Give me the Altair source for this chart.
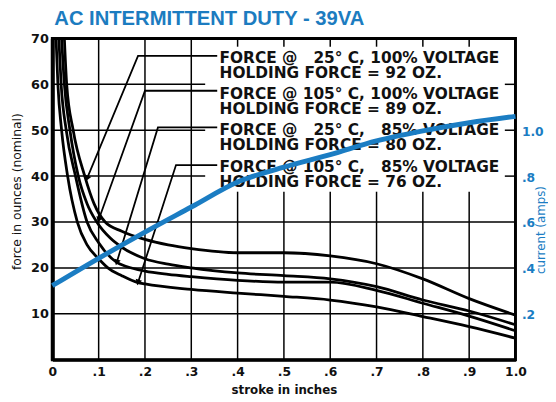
import math
import altair as alt
import pandas as pd

# ---------------- data ----------------
TITLE = "AC INTERMITTENT DUTY - 39VA"

# force curves (stroke in inches -> force in ounces)
a_x = [0.026, 0.031, 0.045, 0.070, 0.090, 0.114, 0.150, 0.200, 0.250, 0.300, 0.400, 0.500, 0.600, 0.700, 0.800, 0.900, 1.000]
a_f = [70, 60, 50, 40, 34, 30, 28, 26.2, 25, 24.2, 23.3, 23.3, 22.6, 20.9, 17.6, 13.3, 9.7]

b_x = [0.020, 0.026, 0.038, 0.056, 0.075, 0.096, 0.125, 0.150, 0.200, 0.250, 0.300, 0.400, 0.500, 0.600, 0.700, 0.800, 0.900, 1.000]
b_f = [70, 60, 50, 40, 34, 30, 26.5, 24.5, 22, 20.8, 20.0, 18.9, 18.3, 17.6, 15.9, 13.0, 10.6, 7.6]

c_x = [0.014, 0.019, 0.030, 0.050, 0.075, 0.100, 0.139, 0.160, 0.200, 0.250, 0.300, 0.400, 0.500, 0.600, 0.700, 0.800, 0.900, 1.000]
c_f = [70, 60, 50, 40, 30, 25.5, 21.2, 20.3, 19.3, 18.6, 18.1, 17.3, 16.9, 16.9, 15.1, 12.3, 9.5, 6.3]

d_x = [0.008, 0.012, 0.020, 0.033, 0.054, 0.075, 0.100, 0.120, 0.150, 0.185, 0.200, 0.300, 0.400, 0.500, 0.600, 0.700, 0.800, 0.900, 1.000]
d_f = [70, 60, 50, 40, 30, 25, 22, 20, 18.3, 16.8, 16.5, 15.3, 14.5, 13.8, 13.0, 11.5, 9.4, 7.2, 4.7]

# current curve (amps)
i_x = [0.0, 0.1, 0.2, 0.3, 0.4, 0.5, 0.6, 0.7, 0.8, 0.9, 1.0]
i_a = [0.325, 0.445, 0.56, 0.67, 0.78, 0.845, 0.90, 0.96, 1.004, 1.04, 1.068]

# annotation labels
label_lines = [
    "FORCE @ \u200725° C, 100% VOLTAGE",
    "HOLDING FORCE = 92 OZ.",
    "FORCE @ 105° C, 100% VOLTAGE",
    "HOLDING FORCE = 89 OZ.",
    "FORCE @ \u200725° C, \u200785% VOLTAGE",
    "HOLDING FORCE = 80 OZ.",
    "FORCE @ 105° C, \u200785% VOLTAGE",
    "HOLDING FORCE = 76 OZ.",
]
label_f = [65.8, 62.5, 57.8, 54.6, 50.0, 46.7, 41.9, 38.7]
label_x0 = 0.361

# leader lines: (start, bend, tip)
lead_x = [[0.356, 0.185, 0.075], [0.356, 0.200, 0.100], [0.356, 0.228, 0.139], [0.356, 0.267, 0.185]]
lead_f = [[66.2, 66.2, 39.5], [58.6, 58.6, 30.5], [50.6, 50.6, 21.2], [42.4, 42.4, 16.8]]

# label area where the grid is not printed
panel_x = [0.33, 0.977]
panel_f = [36.6, 68.2]

x_ticks = [0, 0.1, 0.2, 0.3, 0.4, 0.5, 0.6, 0.7, 0.8, 0.9, 1.0]
y_ticks = [10, 20, 30, 40, 50, 60, 70]
amp_ticks = [0.2, 0.4, 0.6, 0.8, 1.0]

# ---------------- build tables ----------------
W, H = 470, 326
F_MAX = 70
A_MAX = 1.41
BLUE = "#1b7dc3"

# one table for force curves and grid segments (drawn by the same line mark)
rows = []
for name, xs, fs in [("A", a_x, a_f), ("B", b_x, b_f), ("C", c_x, c_f), ("D", d_x, d_f)]:
    for j, (x, f) in enumerate(zip(xs, fs)):
        rows.append({"k": "curve " + name, "kind": "curve", "o": j, "x": x, "f": f})

segs = []
for gx in x_ticks[1:-1]:
    if panel_x[0] < gx < panel_x[1]:
        segs.append(((gx, 0), (gx, panel_f[0])))
        segs.append(((gx, panel_f[1]), (gx, F_MAX)))
    else:
        segs.append(((gx, 0), (gx, F_MAX)))
for gf in y_ticks[:-1]:
    if panel_f[0] < gf < panel_f[1]:
        segs.append(((0, gf), (panel_x[0], gf)))
        segs.append(((panel_x[1], gf), (1, gf)))
    else:
        segs.append(((0, gf), (1, gf)))
for gid, (p0, p1) in enumerate(segs):
    rows.append({"k": "grid %d" % gid, "kind": "grid", "o": 0, "x": p0[0], "f": p0[1]})
    rows.append({"k": "grid %d" % gid, "kind": "grid", "o": 1, "x": p1[0], "f": p1[1]})
lines = pd.DataFrame(rows)

cur = pd.DataFrame({"x": i_x, "a": i_a})
labels = pd.DataFrame({"x": [label_x0] * len(label_lines), "f": label_f, "t": label_lines})

lrows, arows = [], []
for k, (xs, fs) in enumerate(zip(lead_x, lead_f)):
    for j, (x, f) in enumerate(zip(xs, fs)):
        lrows.append({"id": k, "o": j, "x": x, "f": f})
    dx = (xs[2] - xs[1]) * W
    dy = -(fs[2] - fs[1]) * H / F_MAX
    ang = math.degrees(math.atan2(dx, -dy)) % 360
    arows.append({"x": xs[2], "f": fs[2], "ang": ang})
leads = pd.DataFrame(lrows)
arrows = pd.DataFrame(arows)

# ---------------- chart ----------------
xscale = alt.Scale(domain=[0, 1], nice=False, zero=False)
fscale = alt.Scale(domain=[0, F_MAX], nice=False)

x_axis = alt.Axis(
    values=x_ticks, grid=False, ticks=False, domain=True, domainColor="black", domainWidth=3,
    labelExpr="datum.value == 0 ? '0' : (datum.value >= 1 ? '1.0' : '.' + format(datum.value * 10, 'd'))",
    labelFont="DejaVu Sans", labelFontWeight="bold", labelFontSize=12.5, labelColor="#111",
    labelPadding=6, labelFlush=False,
    title="stroke in inches", titleFont="DejaVu Sans", titleFontWeight="bold", titleFontSize=12,
    titleColor="#111", titleY=30, titleBaseline="middle",
)
y_axis = alt.Axis(
    values=y_ticks, grid=False, ticks=False, domain=True, domainColor="black", domainWidth=4,
    labelFont="DejaVu Sans", labelFontWeight="bold", labelFontSize=13, labelColor="#111",
    labelPadding=4, labelFlush=False,
    title="force in ounces (nominal)", titleFont="DejaVu Sans", titleFontWeight="normal",
    titleFontSize=12.5, titleColor="#111", titleX=-36, titleY=155, titleAngle=270,
    titleBaseline="middle", titleAlign="center",
)

X = alt.X("x:Q", scale=xscale, axis=x_axis)
Y = alt.Y("f:Q", scale=fscale, axis=y_axis)
Xn = alt.X("x:Q", scale=xscale)
Yn = alt.Y("f:Q", scale=fscale)

# invisible layer that carries the axes
axes_layer = alt.Chart(labels).mark_point(opacity=0).encode(x=X, y=Y)

line_layer = alt.Chart(lines).mark_line(color="black", interpolate="monotone").encode(
    x=Xn, y=Yn, detail="k:N", order="o:Q",
    strokeWidth=alt.StrokeWidth(
        "kind:N", scale=alt.Scale(domain=["grid", "curve"], range=[1.5, 2.8]), legend=None
    ),
)

lead_layer = alt.Chart(leads).mark_line(color="black", strokeWidth=1.8).encode(
    x=Xn, y=Yn, detail="id:N", order="o:Q"
)

arrow_layer = alt.Chart(arrows).mark_point(
    shape="triangle-up", filled=True, color="black", size=45, opacity=1
).encode(x=Xn, y=Yn, angle=alt.Angle("ang:Q", scale=None))

text_layer = alt.Chart(labels).mark_text(
    align="left", baseline="middle", font="DejaVu Sans", fontWeight="bold",
    fontSize=15.6, color="#111"
).encode(x=Xn, y=Yn, text="t:N")

force_chart = alt.layer(axes_layer, line_layer, lead_layer, arrow_layer, text_layer)

amp_axis = alt.Axis(
    orient="right", values=amp_ticks, grid=False, ticks=False, domain=False,
    labelExpr="datum.value >= 1 ? '1.0' : '.' + format(datum.value * 10, 'd')",
    labelFont="DejaVu Sans", labelFontWeight="bold", labelFontSize=12.5, labelColor=BLUE,
    labelPadding=6,
    title="current (amps)", titleFont="DejaVu Sans", titleFontWeight="normal",
    titleFontSize=12, titleColor=BLUE, titleX=25, titleY=194, titleAngle=270,
    titleBaseline="middle", titleAlign="center",
)

current_layer = alt.Chart(cur).mark_line(
    color=BLUE, strokeWidth=5, interpolate="monotone"
).encode(
    x=Xn,
    y=alt.Y("a:Q", scale=alt.Scale(domain=[0, A_MAX], nice=False), axis=amp_axis),
)

chart = alt.layer(force_chart, current_layer).resolve_scale(y="independent").properties(
    width=W, height=H,
    background="white",
    autosize=alt.AutoSizeParams(type="none"),
    padding={"left": 45, "top": 28, "right": 33, "bottom": 36},
    title=alt.TitleParams(
        TITLE, anchor="start", frame="group", font="Liberation Sans", fontSize=20.5,
        fontWeight="bold", color="#1c7cc0", offset=3, dx=2,
    ),
).configure_view(stroke="black", strokeWidth=3)

chart.save("out.html", embed_options={"renderer": "svg", "actions": False})
